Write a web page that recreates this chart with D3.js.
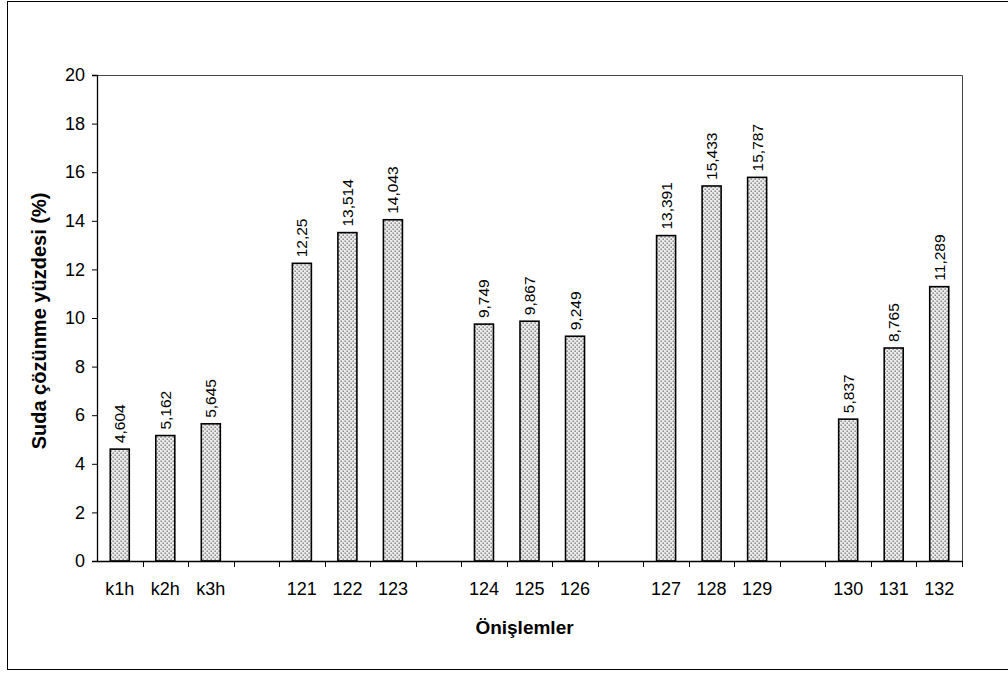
<!DOCTYPE html>
<html>
<head>
<meta charset="utf-8">
<script src="https://cdn.jsdelivr.net/npm/d3@7"></script>
<style>
  html, body { margin: 0; padding: 0; background: #fff; }
  svg { display: block; font-family: Arial, "Liberation Sans", sans-serif; }
</style>
</head>
<body>
<svg id="chart" width="1008" height="673"></svg>
<script>
// Treatment slots; null marks an empty spacer slot between groups
const categories = ["k1h", "k2h", "k3h", null, "121", "122", "123", null,
                    "124", "125", "126", null, "127", "128", "129", null,
                    "130", "131", "132"];
// Water solubility (%) for each slot
const values = [4.604, 5.162, 5.645, null, 12.25, 13.514, 14.043, null,
                9.749, 9.867, 9.249, null, 13.391, 15.433, 15.787, null,
                5.837, 8.765, 11.289];
const yTicks = [0, 2, 4, 6, 8, 10, 12, 14, 16, 18, 20];

const svg = d3.select("#chart");
const margin = { left: 97, right: 1008 - 962, top: 75, bottom: 673 - 561 };
const W = 1008, H = 673;

// chart frame
svg.append("rect")
  .attr("x", 7.5).attr("y", 1.5)
  .attr("width", 1010).attr("height", 668)
  .attr("fill", "#fff").attr("stroke", "#000").attr("stroke-width", 1);

// dotted fill for the bars
const defs = svg.append("defs");
const pat = defs.append("pattern")
  .attr("id", "dots").attr("patternUnits", "userSpaceOnUse")
  .attr("width", 4).attr("height", 4);
pat.append("rect").attr("width", 4).attr("height", 4).attr("fill", "#ececec");
pat.append("rect").attr("x", 0.5).attr("y", 0.5).attr("width", 1.4).attr("height", 1.4).attr("fill", "#7a7a7a");
pat.append("rect").attr("x", 2.5).attr("y", 2.5).attr("width", 1.4).attr("height", 1.4).attr("fill", "#7a7a7a");

const x = d3.scaleBand()
  .domain(d3.range(categories.length))
  .range([margin.left, W - margin.right])
  .paddingInner(0).paddingOuter(0);

const y = d3.scaleLinear()
  .domain([0, 20])
  .range([H - margin.bottom, margin.top]);

const barW = 19;

// plot area outline (top and right)
svg.append("path")
  .attr("d", `M${x.range()[0]},${y(20) + 0.5}H${x.range()[1] + 0.5}V${y(0)}`)
  .attr("fill", "none").attr("stroke", "#444").attr("stroke-width", 1);

// bars
const rows = categories.map((c, i) => ({ i, c, v: values[i] })).filter(d => d.c !== null);

svg.append("g").selectAll("rect")
  .data(rows)
  .join("rect")
  .attr("x", d => x(d.i) + x.bandwidth() / 2 - barW / 2)
  .attr("y", d => y(d.v))
  .attr("width", barW)
  .attr("height", d => y(0) - y(d.v))
  .attr("fill", "url(#dots)")
  .attr("stroke", "#000").attr("stroke-width", 1.6);

// value labels, decimal comma
svg.append("g").selectAll("text")
  .data(rows)
  .join("text")
  .attr("transform", d => `translate(${x(d.i) + x.bandwidth() / 2 + 5.5},${y(d.v) - 6}) rotate(-90)`)
  .attr("text-anchor", "start")
  .attr("font-size", 15.5)
  .attr("fill", "#000")
  .text(d => String(d.v).replace(".", ","));

// y axis
const yAxis = svg.append("g")
  .attr("transform", `translate(${margin.left},0)`)
  .call(d3.axisLeft(y).tickValues(yTicks).tickSize(5).tickPadding(7).tickFormat(d3.format("d")));
yAxis.select(".domain").attr("stroke", "#000").attr("stroke-width", 1.3);
yAxis.selectAll(".tick line").attr("stroke", "#000");
yAxis.selectAll(".tick text").attr("font-size", 18).attr("fill", "#000")
  .attr("font-family", "Arial, 'Liberation Sans', sans-serif");

// x axis: labels centred under slots, ticks on slot boundaries
const xAxis = svg.append("g")
  .attr("transform", `translate(0,${y(0)})`)
  .call(d3.axisBottom(x).tickSize(0).tickPadding(21).tickFormat(i => categories[i] || ""));
xAxis.select(".domain").attr("stroke", "#000").attr("stroke-width", 1.3);
xAxis.selectAll(".tick text").attr("font-size", 18).attr("fill", "#000")
  .attr("font-family", "Arial, 'Liberation Sans', sans-serif");

const bounds = d3.range(categories.length + 1).map(i => x.range()[0] + i * x.step());
svg.append("g").selectAll("line")
  .data(bounds.slice(1))
  .join("line")
  .attr("x1", d => Math.round(d) + 0.5).attr("x2", d => Math.round(d) + 0.5)
  .attr("y1", y(0)).attr("y2", y(0) + 6)
  .attr("stroke", "#000");

// axis titles
svg.append("text")
  .attr("x", (x.range()[0] + x.range()[1]) / 2 - 5)
  .attr("y", 634)
  .attr("text-anchor", "middle")
  .attr("font-size", 19).attr("font-weight", "bold")
  .text("Önişlemler");

svg.append("text")
  .attr("transform", `translate(46,${(y(0) + y(20)) / 2 + 3}) rotate(-90)`)
  .attr("text-anchor", "middle")
  .attr("font-size", 20).attr("font-weight", "bold")
  .text("Suda çözünme yüzdesi (%)");
</script>
</body>
</html>
